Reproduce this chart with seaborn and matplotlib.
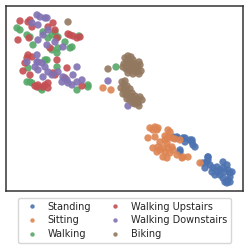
import pandas as pd
import matplotlib.pyplot as plt
import seaborn as sns

# 2-D embedding coordinates, one list pair per activity
labels = ["Standing", "Sitting", "Walking", "Walking Upstairs",
          "Walking Downstairs", "Biking"]

standing_x = [173, 177, 183, 185, 190, 192, 193, 195, 180, 203, 207, 208, 210,
              205, 213, 217, 220, 223, 225, 228, 230, 220, 215, 223, 228, 230,
              225, 218, 212, 223, 227, 232, 208, 177, 185, 192, 180, 208, 230, 227]
standing_y = [137, 138, 138, 142, 140, 142, 145, 147, 150, 163, 162, 157, 165,
              168, 168, 167, 170, 168, 172, 170, 173, 175, 175, 178, 180, 177,
              182, 172, 172, 162, 165, 172, 160, 137, 138, 140, 152, 157, 182, 183]

sitting_x = [150, 155, 158, 153, 157, 168, 170, 148, 155, 165, 168, 172, 175,
             180, 165, 160, 167, 153, 158, 163, 168, 172, 173, 165, 177, 183,
             188, 182, 170, 163, 167, 200, 160, 157, 103, 111]
sitting_y = [128, 127, 128, 130, 130, 130, 132, 138, 137, 136, 137, 138, 139,
             140, 140, 142, 143, 148, 147, 148, 148, 147, 150, 152, 155, 157,
             157, 158, 153, 157, 158, 163, 150, 152, 88, 90]

walking_x = [17, 20, 27, 30, 52, 55, 58, 48, 33, 65, 72, 70, 45, 57, 28, 27,
             32, 40, 77, 88, 58, 116, 88, 47, 52, 57, 42, 30, 79, 43]
walking_y = [28, 30, 35, 37, 35, 32, 37, 38, 45, 42, 47, 48, 60, 67, 68, 82,
             83, 88, 90, 85, 48, 67, 87, 60, 50, 53, 90, 82, 36, 32]

upstairs_x = [20, 30, 32, 18, 29, 48, 55, 57, 68, 73, 77, 80, 50, 28, 27, 32,
              25, 57, 55, 65, 30, 38, 45, 48, 82, 37, 23, 53, 67, 48, 43, 35,
              28, 53, 70]
upstairs_y = [21, 20, 27, 40, 38, 27, 30, 38, 34, 36, 38, 37, 48, 55, 58, 57,
              63, 60, 75, 78, 75, 85, 85, 83, 86, 87, 71, 73, 68, 88, 87, 86,
              22, 23, 35]

downstairs_x = [37, 40, 38, 45, 48, 43, 38, 47, 55, 63, 37, 38, 42, 45, 35, 38,
                48, 52, 43, 58, 63, 62, 67, 68, 77, 73, 77, 82, 72, 108, 128,
                27, 37, 47, 32]
downstairs_y = [15, 17, 25, 18, 30, 35, 40, 45, 42, 47, 55, 62, 63, 67, 67, 70,
                72, 75, 77, 72, 77, 82, 80, 83, 67, 75, 82, 80, 85, 81, 106,
                62, 62, 18, 23]

biking_x = [125, 128, 131, 127, 130, 133, 124, 127, 131, 135, 137, 140, 138,
            141, 136, 132, 129, 126, 134, 139, 123, 128, 133, 139,
            122, 125, 124, 127, 121, 124, 127, 130, 123, 126, 129, 127, 132,
            135, 134, 137, 140, 142, 138, 135, 139, 133, 130, 132, 68, 108]
biking_y = [58, 56, 57, 61, 62, 60, 64, 66, 66, 64, 66, 65, 69, 71, 72, 70,
            70, 69, 68, 62, 67, 73, 74, 74,
            82, 81, 85, 86, 88, 90, 91, 89, 94, 95, 96, 99, 97, 96, 100, 99,
            97, 100, 103, 104, 106, 103, 100, 93, 22, 69]

xs = [standing_x, sitting_x, walking_x, upstairs_x, downstairs_x, biking_x]
ys = [standing_y, sitting_y, walking_y, upstairs_y, downstairs_y, biking_y]

df = pd.concat(
    [pd.DataFrame({"x": x, "y": y, "activity": lab}) for x, y, lab in zip(xs, ys, labels)],
    ignore_index=True,
)

sns.set_style("white")
fig = plt.figure(figsize=(2.5, 2.48), dpi=100)
ax = fig.add_axes([0.024, 0.23, 0.948, 0.746])

sns.scatterplot(data=df, x="x", y="y", hue="activity", hue_order=labels,
                palette="deep", s=28, linewidth=0, alpha=0.9, ax=ax)

ax.set_xlim(6, 243)
ax.set_ylim(191, 6)
ax.set_xticks([])
ax.set_yticks([])
ax.set_xlabel("")
ax.set_ylabel("")
for sp in ax.spines.values():
    sp.set_color("#333333")
    sp.set_linewidth(1.1)

ax.legend(loc="upper center", bbox_to_anchor=(0.5, -0.01), ncol=2,
          fontsize=7, frameon=True, markerscale=0.6, handletextpad=0.6,
          columnspacing=1.5, labelspacing=0.4, borderpad=0.4)

plt.savefig("out.png", dpi=100)
plt.close()
